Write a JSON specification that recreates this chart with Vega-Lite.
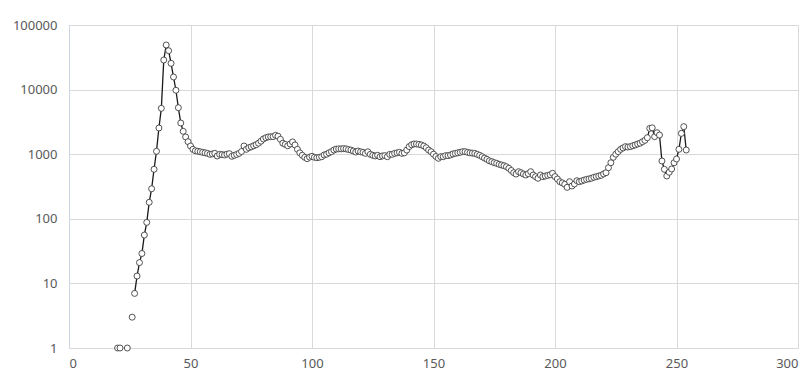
{
  "$schema": "https://vega.github.io/schema/vega-lite/v6.json",
  "width": 729,
  "height": 323,
  "autosize": {"type": "none"},
  "padding": {"left": 69, "top": 25, "right": 14, "bottom": 30},
  "background": "white",
  "config": {
    "view": {"stroke": null},
    "font": "Noto Sans",
    "axis": {
      "labelFont": "Noto Sans",
      "labelFontSize": 13,
      "labelColor": "#595959",
      "gridColor": "#d9d9d9",
      "gridWidth": 1,
      "ticks": false,
      "domain": false,
      "title": null
    }
  },
  "data": {
    "values": [
      {"x": 20, "y": 1}, {"x": 21, "y": 1}, {"x": 24, "y": 1}, {"x": 26, "y": 3},
      {"x": 27, "y": 7}, {"x": 28, "y": 13}, {"x": 29, "y": 21}, {"x": 30, "y": 29},
      {"x": 31, "y": 56}, {"x": 32, "y": 88}, {"x": 33, "y": 180}, {"x": 34, "y": 292},
      {"x": 35, "y": 584}, {"x": 36, "y": 1109}, {"x": 37, "y": 2546}, {"x": 38, "y": 5130},
      {"x": 39, "y": 28700}, {"x": 40, "y": 49000}, {"x": 41, "y": 40000}, {"x": 42, "y": 25500},
      {"x": 43, "y": 15700}, {"x": 44, "y": 9770}, {"x": 45, "y": 5250}, {"x": 46, "y": 3040},
      {"x": 47, "y": 2260}, {"x": 48, "y": 1850}, {"x": 49, "y": 1560}, {"x": 50, "y": 1340},
      {"x": 51, "y": 1190}, {"x": 52, "y": 1130}, {"x": 53, "y": 1110}, {"x": 54, "y": 1090},
      {"x": 55, "y": 1070}, {"x": 56, "y": 1050}, {"x": 57, "y": 1030}, {"x": 58, "y": 995},
      {"x": 59, "y": 1010}, {"x": 60, "y": 1030}, {"x": 61, "y": 938}, {"x": 62, "y": 995},
      {"x": 63, "y": 985}, {"x": 64, "y": 972}, {"x": 65, "y": 1000}, {"x": 66, "y": 1018},
      {"x": 67, "y": 927}, {"x": 68, "y": 960}, {"x": 69, "y": 990}, {"x": 70, "y": 1030},
      {"x": 71, "y": 1100}, {"x": 72, "y": 1340}, {"x": 73, "y": 1190}, {"x": 74, "y": 1260},
      {"x": 75, "y": 1300}, {"x": 76, "y": 1350}, {"x": 77, "y": 1400}, {"x": 78, "y": 1480},
      {"x": 79, "y": 1590}, {"x": 80, "y": 1720}, {"x": 81, "y": 1800}, {"x": 82, "y": 1850},
      {"x": 83, "y": 1860}, {"x": 84, "y": 1870}, {"x": 85, "y": 1960}, {"x": 86, "y": 1900},
      {"x": 87, "y": 1700}, {"x": 88, "y": 1480}, {"x": 89, "y": 1420}, {"x": 90, "y": 1350},
      {"x": 91, "y": 1440}, {"x": 92, "y": 1550}, {"x": 93, "y": 1390}, {"x": 94, "y": 1190},
      {"x": 95, "y": 1050}, {"x": 96, "y": 962}, {"x": 97, "y": 895}, {"x": 98, "y": 852},
      {"x": 99, "y": 900}, {"x": 100, "y": 927}, {"x": 101, "y": 895}, {"x": 102, "y": 882},
      {"x": 103, "y": 895}, {"x": 104, "y": 915}, {"x": 105, "y": 972}, {"x": 106, "y": 1000},
      {"x": 107, "y": 1050}, {"x": 108, "y": 1094}, {"x": 109, "y": 1160}, {"x": 110, "y": 1200},
      {"x": 111, "y": 1210}, {"x": 112, "y": 1210}, {"x": 113, "y": 1220}, {"x": 114, "y": 1210},
      {"x": 115, "y": 1180}, {"x": 116, "y": 1160}, {"x": 117, "y": 1120}, {"x": 118, "y": 1080},
      {"x": 119, "y": 1120}, {"x": 120, "y": 1090}, {"x": 121, "y": 1070}, {"x": 122, "y": 1030},
      {"x": 123, "y": 1090}, {"x": 124, "y": 995}, {"x": 125, "y": 962}, {"x": 126, "y": 940},
      {"x": 127, "y": 962}, {"x": 128, "y": 915}, {"x": 129, "y": 940}, {"x": 130, "y": 950},
      {"x": 131, "y": 915}, {"x": 132, "y": 995}, {"x": 133, "y": 995}, {"x": 134, "y": 1030},
      {"x": 135, "y": 1050}, {"x": 136, "y": 1070}, {"x": 137, "y": 1030}, {"x": 138, "y": 1050},
      {"x": 139, "y": 1160}, {"x": 140, "y": 1310}, {"x": 141, "y": 1400}, {"x": 142, "y": 1440},
      {"x": 143, "y": 1440}, {"x": 144, "y": 1420}, {"x": 145, "y": 1390}, {"x": 146, "y": 1340},
      {"x": 147, "y": 1260}, {"x": 148, "y": 1160}, {"x": 149, "y": 1094}, {"x": 150, "y": 1000},
      {"x": 151, "y": 920}, {"x": 152, "y": 864}, {"x": 153, "y": 915}, {"x": 154, "y": 915},
      {"x": 155, "y": 950}, {"x": 156, "y": 950}, {"x": 157, "y": 972}, {"x": 158, "y": 1010},
      {"x": 159, "y": 1030}, {"x": 160, "y": 1050}, {"x": 161, "y": 1070}, {"x": 162, "y": 1094},
      {"x": 163, "y": 1094}, {"x": 164, "y": 1070}, {"x": 165, "y": 1050}, {"x": 166, "y": 1040},
      {"x": 167, "y": 1030}, {"x": 168, "y": 995}, {"x": 169, "y": 960}, {"x": 170, "y": 915},
      {"x": 171, "y": 870}, {"x": 172, "y": 833}, {"x": 173, "y": 790}, {"x": 174, "y": 765},
      {"x": 175, "y": 740}, {"x": 176, "y": 722}, {"x": 177, "y": 697}, {"x": 178, "y": 680},
      {"x": 179, "y": 664}, {"x": 180, "y": 640}, {"x": 181, "y": 605}, {"x": 182, "y": 560},
      {"x": 183, "y": 517}, {"x": 184, "y": 493}, {"x": 185, "y": 536}, {"x": 186, "y": 517},
      {"x": 187, "y": 493}, {"x": 188, "y": 476}, {"x": 189, "y": 500}, {"x": 190, "y": 536},
      {"x": 191, "y": 476}, {"x": 192, "y": 449}, {"x": 193, "y": 424}, {"x": 194, "y": 476},
      {"x": 195, "y": 449}, {"x": 196, "y": 459}, {"x": 197, "y": 470}, {"x": 198, "y": 480},
      {"x": 199, "y": 506}, {"x": 200, "y": 450}, {"x": 201, "y": 413}, {"x": 202, "y": 375},
      {"x": 203, "y": 360}, {"x": 204, "y": 342}, {"x": 205, "y": 307}, {"x": 206, "y": 375},
      {"x": 207, "y": 322}, {"x": 208, "y": 346}, {"x": 209, "y": 389}, {"x": 210, "y": 375},
      {"x": 211, "y": 385}, {"x": 212, "y": 398}, {"x": 213, "y": 408}, {"x": 214, "y": 415},
      {"x": 215, "y": 424}, {"x": 216, "y": 439}, {"x": 217, "y": 449}, {"x": 218, "y": 460},
      {"x": 219, "y": 471}, {"x": 220, "y": 495}, {"x": 221, "y": 517}, {"x": 222, "y": 618},
      {"x": 223, "y": 738}, {"x": 224, "y": 895}, {"x": 225, "y": 1000}, {"x": 226, "y": 1094},
      {"x": 227, "y": 1190}, {"x": 228, "y": 1250}, {"x": 229, "y": 1310}, {"x": 230, "y": 1290},
      {"x": 231, "y": 1310}, {"x": 232, "y": 1350}, {"x": 233, "y": 1390}, {"x": 234, "y": 1440},
      {"x": 235, "y": 1480}, {"x": 236, "y": 1560}, {"x": 237, "y": 1640}, {"x": 238, "y": 1800},
      {"x": 239, "y": 2510}, {"x": 240, "y": 2560}, {"x": 241, "y": 1870}, {"x": 242, "y": 2150},
      {"x": 243, "y": 1980}, {"x": 244, "y": 785}, {"x": 245, "y": 584}, {"x": 246, "y": 460},
      {"x": 247, "y": 525}, {"x": 248, "y": 590}, {"x": 249, "y": 738}, {"x": 250, "y": 843},
      {"x": 251, "y": 1190}, {"x": 252, "y": 2100}, {"x": 253, "y": 2670}, {"x": 254, "y": 1160}
    ]
  },
  "encoding": {
    "x": {
      "field": "x",
      "type": "quantitative",
      "scale": {"domain": [0, 300], "nice": false, "zero": false},
      "axis": {"values": [0, 50, 100, 150, 200, 250, 300], "labelPadding": 9, "grid": true}
    },
    "y": {
      "field": "y",
      "type": "quantitative",
      "scale": {"type": "log", "domain": [1, 100000], "nice": false},
      "axis": {"values": [1, 10, 100, 1000, 10000, 100000], "format": "d", "labelPadding": 12, "grid": true, "domain": true, "domainColor": "#cdd5e3", "domainWidth": 1}
    }
  },
  "layer": [
    {
      "transform": [{"filter": "datum.x >= 27"}],
      "mark": {"type": "line", "color": "#1a1a1a", "strokeWidth": 1.3, "clip": true}
    },
    {
      "mark": {"type": "point", "shape": "circle", "filled": true, "fill": "white", "stroke": "#404040", "strokeWidth": 0.9, "size": 36, "opacity": 1}
    }
  ]
}
